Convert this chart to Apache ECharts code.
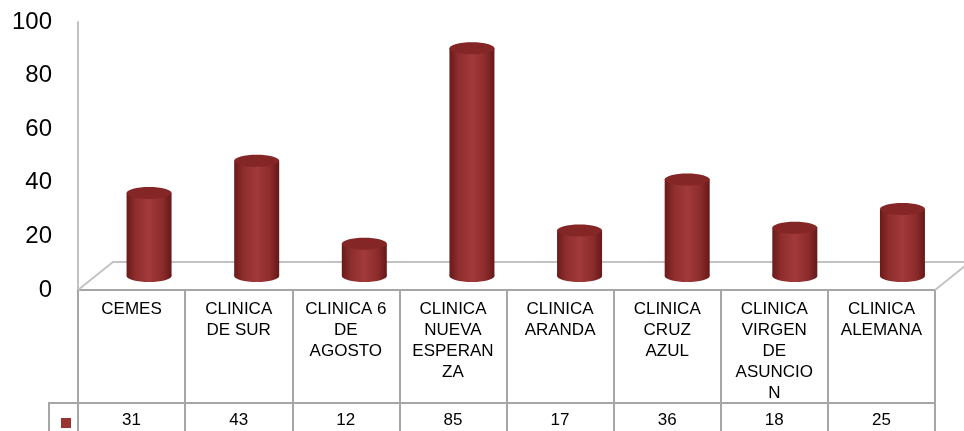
<!DOCTYPE html>
<html>
<head>
<meta charset="utf-8">
<script src="https://cdn.jsdelivr.net/npm/echarts@6/dist/echarts.min.js"></script>
<style>
  html, body { margin: 0; padding: 0; background: #fff; }
  #chart { width: 964px; height: 431px; }
</style>
</head>
<body>
<div id="chart"></div>
<script>
// data
const categories = ['CEMES', 'CLINICA\nDE SUR', 'CLINICA 6\nDE\nAGOSTO', 'CLINICA\nNUEVA\nESPERAN\nZA',
  'CLINICA\nARANDA', 'CLINICA\nCRUZ\nAZUL', 'CLINICA\nVIRGEN\nDE\nASUNCIO\nN', 'CLINICA\nALEMANA'];
const values = [31, 43, 12, 85, 17, 36, 18, 25];
const yTicks = [0, 20, 40, 60, 80, 100];

const FONT = "'Liberation Sans', Arial, sans-serif";
const GRID_LINE = '#a6a6a6';
const FLOOR_LINE = '#c3c3c3';

// depth of the 3D floor (px)
const DEPTH_X = 35, DEPTH_Y = -28;

const chart = echarts.init(document.getElementById('chart'), null, { renderer: 'canvas' });

const sideGradient = new echarts.graphic.LinearGradient(0, 0, 1, 0, [
  { offset: 0, color: '#6a1a1a' },
  { offset: 0.2, color: '#8e2d2d' },
  { offset: 0.5, color: '#a23a3a' },
  { offset: 0.8, color: '#8c2b2b' },
  { offset: 1, color: '#651818' }
]);

// cylinder drawn at mid depth of the floor
function renderCylinder(params, api) {
  const i = api.value(0);
  const top = api.coord([i, api.value(1)]);
  const base = api.coord([i, 0]);
  const bw = api.size([1, 0])[0] * 0.42;
  const cx = top[0] + DEPTH_X / 2 + i * 0.5;
  const yt = top[1] + DEPTH_Y / 2;
  const yb = base[1] + DEPTH_Y / 2;
  const rx = bw / 2, ry = 6;
  return {
    type: 'group',
    children: [
      { type: 'ellipse', shape: { cx: cx, cy: yb, rx: rx, ry: ry }, style: { fill: sideGradient } },
      { type: 'rect', shape: { x: cx - rx, y: yt, width: bw, height: yb - yt }, style: { fill: sideGradient } },
      { type: 'ellipse', shape: { cx: cx, cy: yt, rx: rx, ry: ry }, style: { fill: '#852626' } }
    ]
  };
}

// floor outline + legend key cell, taken from the grid rect
function renderFloor(params, api) {
  const cs = params.coordSys;
  const x0 = cs.x, y0 = cs.y + cs.height, x1 = cs.x + cs.width;
  const lineStyle = { stroke: FLOOR_LINE, lineWidth: 2, fill: null };
  const tableStyle = { stroke: GRID_LINE, lineWidth: 2, fill: null };
  return {
    type: 'group',
    children: [
      { type: 'polyline', shape: { points: [[x0, y0], [x0 + DEPTH_X, y0 + DEPTH_Y], [x1 + DEPTH_X, y0 + DEPTH_Y]] }, style: lineStyle },
      { type: 'line', shape: { x1: x1, y1: y0, x2: x1 + DEPTH_X, y2: y0 + DEPTH_Y }, style: lineStyle },
      { type: 'polyline', shape: { points: [[x0, y0 + 113], [x0 - 29, y0 + 113], [x0 - 29, y0 + 160]] }, style: tableStyle }
    ]
  };
}

chart.setOption({
  animation: false,
  textStyle: { fontFamily: FONT },
  grid: { left: 78, right: 29, top: 22, bottom: 141, containLabel: false },
  legend: {
    data: ['Serie 1'],
    left: 56, top: 413,
    icon: 'rect', itemWidth: 10, itemHeight: 10,
    formatter: () => '',
    selectedMode: false
  },
  xAxis: [
    {
      type: 'category',
      data: categories,
      axisLine: { lineStyle: { color: GRID_LINE, width: 2 } },
      axisTick: { show: true, length: 141, lineStyle: { color: GRID_LINE, width: 2 } },
      axisLabel: { interval: 0, color: '#000', fontSize: 17, lineHeight: 21, margin: 9, verticalAlign: 'top' }
    },
    {
      type: 'category',
      position: 'bottom',
      offset: 113,
      data: values.map(String),
      axisLine: { lineStyle: { color: GRID_LINE, width: 2 } },
      axisTick: { show: false },
      axisLabel: { interval: 0, color: '#000', fontSize: 17, margin: 9 }
    }
  ],
  yAxis: {
    type: 'value',
    min: yTicks[0],
    max: yTicks[yTicks.length - 1],
    interval: 20,
    axisLine: { show: true, lineStyle: { color: FLOOR_LINE, width: 2 } },
    axisTick: { show: false },
    splitLine: { show: false },
    axisLabel: { color: '#000', fontSize: 24, margin: 26 }
  },
  series: [
    {
      type: 'custom',
      name: 'floor',
      silent: true,
      z: 1,
      renderItem: renderFloor,
      data: [[0, 0]]
    },
    {
      type: 'custom',
      name: 'Serie 1',
      z: 2,
      itemStyle: { color: '#9b3333' },
      renderItem: renderCylinder,
      encode: { x: 0, y: 1 },
      data: values.map((v, i) => [i, v])
    }
  ]
});
</script>
</body>
</html>
